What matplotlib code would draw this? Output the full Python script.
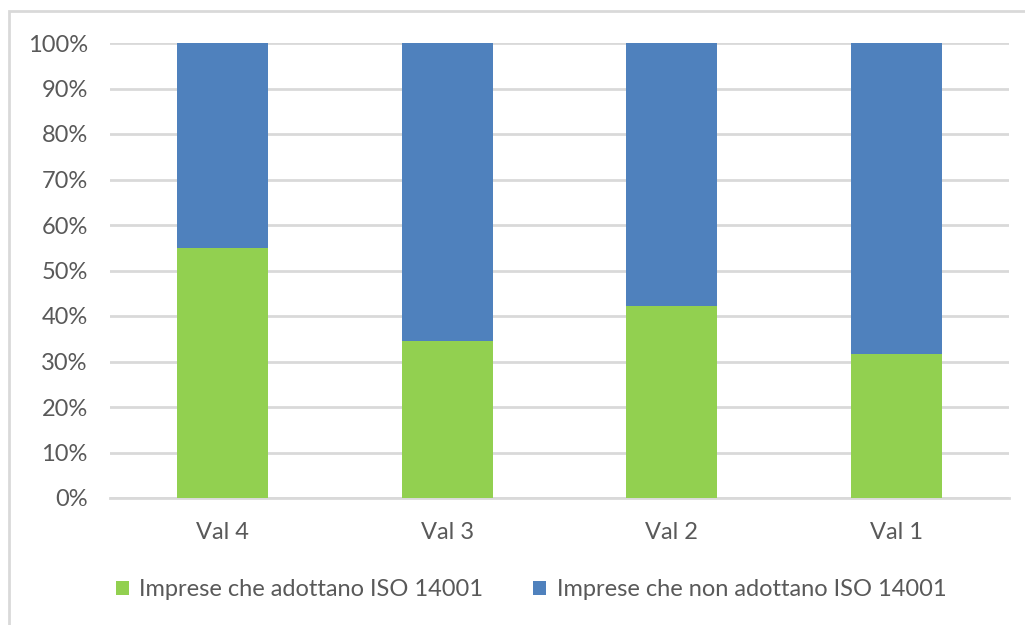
import matplotlib
matplotlib.use("Agg")
import matplotlib.pyplot as plt
from matplotlib.patches import Rectangle
from matplotlib.ticker import PercentFormatter

categories = ["Val 4", "Val 3", "Val 2", "Val 1"]
adottano = [54.9, 34.4, 42.2, 31.7]
non_adottano = [100 - v for v in adottano]
series_names = ["Imprese che adottano ISO 14001", "Imprese che non adottano ISO 14001"]

GREEN = "#92d050"
BLUE = "#4f81bd"
GRID = "#d9d9d9"
TEXT = "#595959"

plt.rcParams["font.family"] = ["Lato", "DejaVu Sans"]

fig = plt.figure(figsize=(10.25, 6.25), dpi=100)
# chart frame
fig.patches.append(Rectangle((9 / 1025, -0.1), 1.2, 1 - 11 / 625 + 0.1,
                             transform=fig.transFigure, fill=False,
                             edgecolor=GRID, linewidth=2))

ax = fig.add_axes([110 / 1025, 1 - 498 / 625, 899 / 1025, 455 / 625])
x = range(len(categories))
width = 0.405
ax.bar(x, adottano, width, color=GREEN, label=series_names[0], zorder=3)
ax.bar(x, non_adottano, width, bottom=adottano, color=BLUE, label=series_names[1], zorder=3)

ax.set_xlim(-0.5, 3.5)
ax.set_ylim(0, 100)
ax.set_yticks(range(0, 101, 10))
ax.yaxis.set_major_formatter(PercentFormatter(decimals=0))
ax.set_xticks(list(x))
ax.set_xticklabels(categories)
ax.grid(axis="y", color=GRID, linewidth=2, zorder=0)
for s in ["top", "right", "left"]:
    ax.spines[s].set_visible(False)
ax.spines["bottom"].set_color(GRID)
ax.spines["bottom"].set_linewidth(2)
ax.tick_params(axis="both", length=0, colors=TEXT, labelsize=17)
ax.tick_params(axis="y", pad=16)
ax.tick_params(axis="x", pad=17)

fig.legend(loc="center", bbox_to_anchor=(531 / 1025, 1 - 590 / 625), ncol=2,
           frameon=False, fontsize=17, labelcolor=TEXT, handlelength=0.55,
           handleheight=0.55, handletextpad=0.45, columnspacing=2.1)

fig.savefig("out.png", dpi=100)
